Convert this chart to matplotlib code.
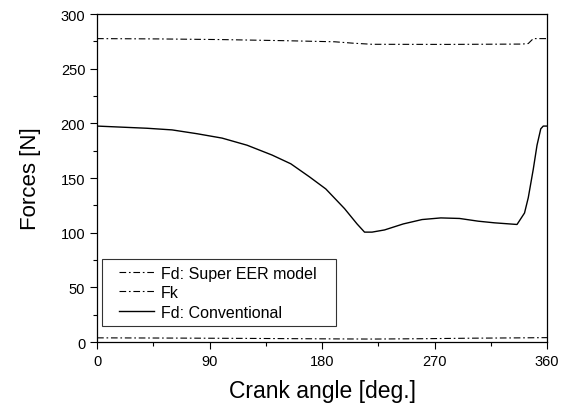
import matplotlib
matplotlib.use("Agg")
import matplotlib.pyplot as plt
from matplotlib.lines import Line2D
from matplotlib.legend_handler import HandlerLine2D
from matplotlib.ticker import MultipleLocator

plt.rcParams.update({
    "font.family": ["Liberation Sans", "DejaVu Sans"],
    "font.size": 10,
})

# Fd: Super EER model (bottom, nearly zero)
eer_deg = [0, 60, 120, 180, 220, 260, 300, 340, 360]
eer_force = [3.8, 3.6, 3.3, 2.9, 2.7, 3.0, 3.5, 3.8, 4.0]

# Fk (top)
fk_deg = [0, 50, 100, 150, 190, 205, 220, 280, 340, 345, 349, 360]
fk_force = [277.5, 277.2, 276.6, 275.6, 274.6, 273.3, 272.3, 272.2, 272.5, 273.0, 277.5, 277.5]

# Fd: Conventional
conv_deg = [0, 10, 20, 40, 60, 80, 100, 120, 140, 155, 170, 183, 198, 208, 214,
            220, 230, 245, 260, 275, 290, 305, 318, 336, 338, 342, 345, 349, 352,
            355, 357, 360]
conv_force = [197.5, 197.0, 196.5, 195.5, 194.0, 190.5, 186.5, 180.0, 171.0, 163.0,
              151.0, 140.0, 122.0, 108.0, 100.5, 100.5, 102.5, 108.0, 112.0, 113.5,
              113.0, 110.5, 109.0, 107.5, 111.0, 118.0, 132.0, 158.0, 180.0, 195.0,
              197.5, 197.5]

fig = plt.figure(figsize=(5.71, 4.10), dpi=100)
ax = fig.add_axes([0.170, 0.1634, 0.788, 0.800])

dashdot = (0, (6, 2.5, 1.5, 2.5))
ax.plot(eer_deg, eer_force, color="black", lw=0.8, ls=dashdot, label="Fd: Super EER model")
ax.plot(fk_deg, fk_force, color="black", lw=0.8, ls=dashdot, label="Fk")
ax.plot(conv_deg, conv_force, color="black", lw=1.0, ls="-", label="Fd: Conventional")

ax.set_xlim(0, 360)
ax.set_ylim(0, 300)
ax.xaxis.set_major_locator(MultipleLocator(90))
ax.xaxis.set_minor_locator(MultipleLocator(45))
ax.yaxis.set_major_locator(MultipleLocator(50))
ax.yaxis.set_minor_locator(MultipleLocator(25))
ax.tick_params(which="both", direction="out", top=False, right=False, labelsize=10.5)
ax.tick_params(which="major", length=5, width=0.8)
ax.tick_params(which="minor", length=3, width=0.8)
for s in ax.spines.values():
    s.set_linewidth(0.9)

ax.set_xlabel("Crank angle [deg.]", fontsize=16.5, va="center")
ax.set_ylabel("Forces [N]", fontsize=16, va="center")
ax.xaxis.set_label_coords(0.5, -0.149)
ax.yaxis.set_label_coords(-0.149, 0.5)

leg = ax.legend(loc="lower left", bbox_to_anchor=(0.011, 0.049, 0.52, 0.2),
                mode="expand", borderaxespad=0,
                fontsize=11.5, frameon=True, fancybox=False, edgecolor="black",
                handlelength=3.5, handletextpad=-0.2, borderpad=0.4,
                labelspacing=0.28,
                handler_map={Line2D: HandlerLine2D(numpoints=2, marker_pad=0.65)})
leg.get_frame().set_linewidth(0.8)

fig.savefig("out.png", dpi=100)
